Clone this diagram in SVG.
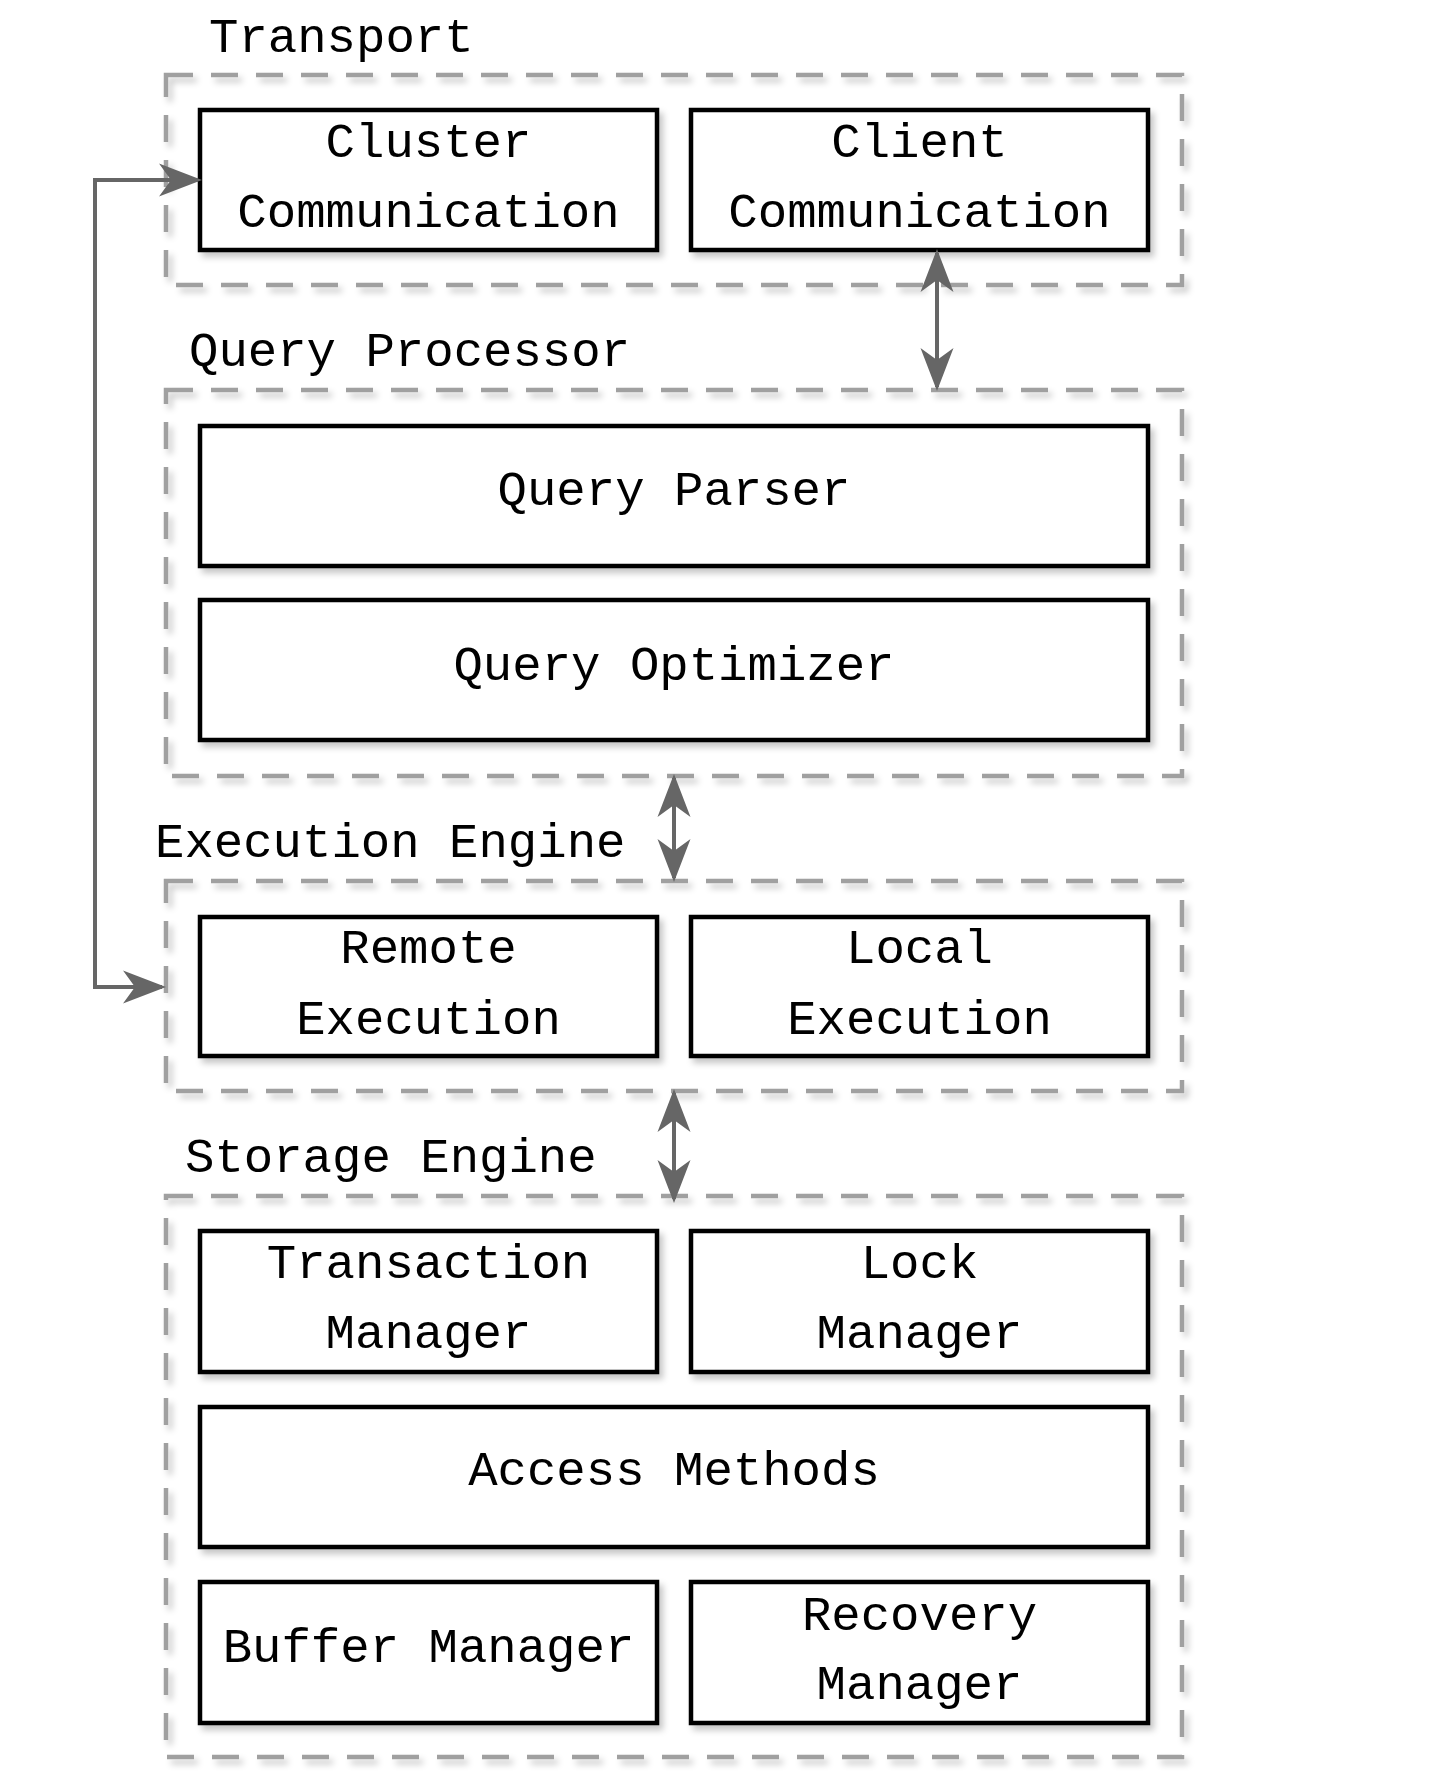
<svg xmlns="http://www.w3.org/2000/svg" width="1452" height="1780" viewBox="0 0 1452 1780">
  <style>
    .layer { fill: none; stroke: #a0a0a0; stroke-width: 4.5; stroke-dasharray: 27 18; stroke-linecap: butt; filter: url(#shadow); }
    .box { fill: #ffffff; stroke: #000000; stroke-width: 4.5; filter: url(#shadow); }
    .label { font-family: "Liberation Mono", "DejaVu Sans Mono", monospace; font-size: 49px; fill: #000000; }
    .node-text { text-anchor: middle; }
    .link { fill: none; stroke: #666666; stroke-width: 4; }
  </style>
  <defs>
    <filter id="shadow" x="-10%" y="-10%" width="130%" height="130%">
      <feDropShadow dx="4" dy="5" stdDeviation="3" flood-color="#000000" flood-opacity="0.22"/>
    </filter>
    <marker id="head" markerUnits="userSpaceOnUse" viewBox="-44 -18 46 36" markerWidth="46" markerHeight="36" refX="-4" refY="0" orient="auto-start-reverse">
      <path d="M0,0 L-43,-16.5 L-31,0 L-43,16.5 Z" fill="#666666"/>
    </marker>
  </defs>

  <rect width="1452" height="1780" fill="#ffffff"/>

  <!-- Transport layer -->
  <g id="transport">
    <rect class="layer" x="166" y="75" width="1016" height="210"/>
    <text class="label" x="209" y="52">Transport</text>
  </g>
  <g id="cluster-communication">
    <rect class="box" x="200" y="110" width="457" height="140"/>
    <text class="label node-text" x="428.5" y="157">Cluster</text>
    <text class="label node-text" x="428.5" y="227">Communication</text>
  </g>
  <g id="client-communication">
    <rect class="box" x="691" y="110" width="457" height="140"/>
    <text class="label node-text" x="919.5" y="157">Client</text>
    <text class="label node-text" x="919.5" y="227">Communication</text>
  </g>

  <!-- Query processor layer -->
  <g id="query-processor">
    <rect class="layer" x="166" y="390" width="1016" height="386"/>
    <text class="label" x="189" y="366">Query Processor</text>
  </g>
  <g id="query-parser">
    <rect class="box" x="200" y="426" width="948" height="140"/>
    <text class="label node-text" x="674" y="505">Query Parser</text>
  </g>
  <g id="query-optimizer">
    <rect class="box" x="200" y="600" width="948" height="140"/>
    <text class="label node-text" x="674" y="680">Query Optimizer</text>
  </g>

  <!-- Execution engine layer -->
  <g id="execution-engine">
    <rect class="layer" x="166" y="881" width="1016" height="210"/>
    <text class="label" x="155" y="857">Execution Engine</text>
  </g>
  <g id="remote-execution">
    <rect class="box" x="200" y="917" width="457" height="139"/>
    <text class="label node-text" x="428.5" y="963">Remote</text>
    <text class="label node-text" x="428.5" y="1034">Execution</text>
  </g>
  <g id="local-execution">
    <rect class="box" x="691" y="917" width="457" height="139"/>
    <text class="label node-text" x="919.5" y="963">Local</text>
    <text class="label node-text" x="919.5" y="1034">Execution</text>
  </g>

  <!-- Storage engine layer -->
  <g id="storage-engine">
    <rect class="layer" x="166" y="1196" width="1016" height="561"/>
    <text class="label" x="185" y="1172">Storage Engine</text>
  </g>
  <g id="transaction-manager">
    <rect class="box" x="200" y="1231" width="457" height="141"/>
    <text class="label node-text" x="428.5" y="1278">Transaction</text>
    <text class="label node-text" x="428.5" y="1348">Manager</text>
  </g>
  <g id="lock-manager">
    <rect class="box" x="691" y="1231" width="457" height="141"/>
    <text class="label node-text" x="919.5" y="1278">Lock</text>
    <text class="label node-text" x="919.5" y="1348">Manager</text>
  </g>
  <g id="access-methods">
    <rect class="box" x="200" y="1407" width="948" height="140"/>
    <text class="label node-text" x="674" y="1485">Access Methods</text>
  </g>
  <g id="buffer-manager">
    <rect class="box" x="200" y="1582" width="457" height="141"/>
    <text class="label node-text" x="428.5" y="1662">Buffer Manager</text>
  </g>
  <g id="recovery-manager">
    <rect class="box" x="691" y="1582" width="457" height="141"/>
    <text class="label node-text" x="919.5" y="1630">Recovery</text>
    <text class="label node-text" x="919.5" y="1699">Manager</text>
  </g>

  <!-- Connectors -->
  <g id="connectors">
    <path class="link" d="M162,987 H95 V180 H198" marker-start="url(#head)" marker-end="url(#head)"/>
    <path class="link" d="M937,253 V387" marker-start="url(#head)" marker-end="url(#head)"/>
    <path class="link" d="M674,778 V878" marker-start="url(#head)" marker-end="url(#head)"/>
    <path class="link" d="M674,1093 V1199" marker-start="url(#head)" marker-end="url(#head)"/>
  </g>
</svg>
